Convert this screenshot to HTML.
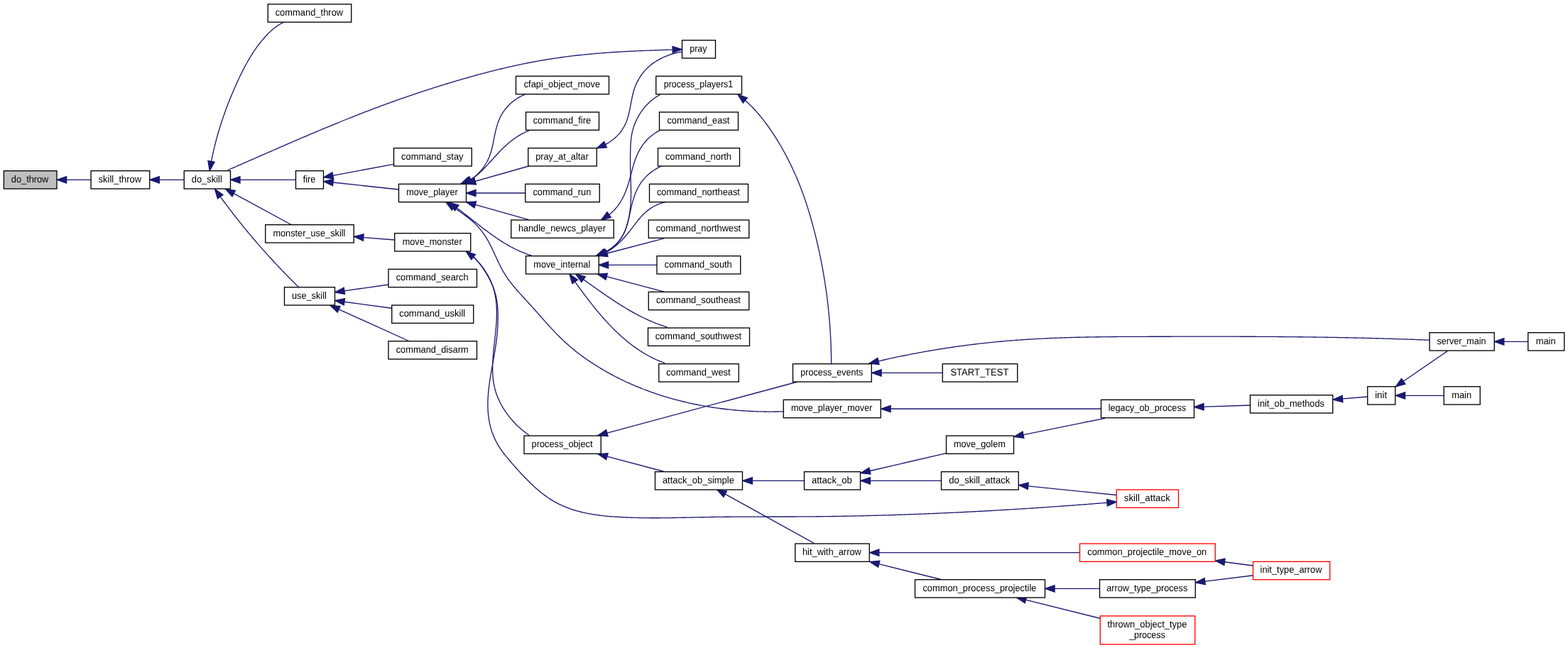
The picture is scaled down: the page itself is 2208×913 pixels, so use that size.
<!DOCTYPE html>
<html><head><meta charset="utf-8"><title>do_throw caller graph</title>
<style>
html,body{margin:0;padding:0;background:#fff;}
body{width:2208px;height:913px;overflow:hidden;}
svg{display:block;will-change:transform;}
text{font-family:"Liberation Sans",sans-serif;font-size:13.33px;fill:#000;text-anchor:start;text-rendering:geometricPrecision;}
.n{fill:#fff;stroke:#000;stroke-width:1.33;}
.g{fill:#bfbfbf;stroke:#000;stroke-width:1.33;}
.r{fill:#fff;stroke:#f00;stroke-width:1.33;}
.e{fill:none;stroke:#191970;stroke-width:1.33;}
.a{fill:#191970;stroke:#191970;stroke-width:1.33;}
</style></head>
<body>
<svg width="2208" height="913" viewBox="0 0 2208 913">
<rect x="0" y="0" width="2208" height="913" fill="#fff"/>
<g id="edges">
<path class="e" d="M93.63,253.3L128.1,253.3"/><polygon class="a" points="80.3,253.3 93.63,257.97 93.63,248.63"/>
<path class="e" d="M224.33,253.3L259.25,253.3"/><polygon class="a" points="211,253.3 224.33,257.97 224.33,248.63"/>
<path class="e" d="M338.03,253.3L416.5,253.3"/><polygon class="a" points="324.7,253.3 338.03,257.97 338.03,248.63"/>
<path class="e" d="M329.22,272.66L410,316.5"/><polygon class="a" points="317.5,266.3 326.99,276.76 331.44,268.55"/>
<path class="e" d="M310.27,277.13L310.28,277.14 311.47,278.77 312.66,280.39 313.85,282.01 315.04,283.62 316.24,285.23 317.44,286.85 318.64,288.45 319.85,290.06 321.05,291.66 322.27,293.26 323.48,294.86 324.7,296.45 325.92,298.05 327.15,299.64 328.37,301.22 329.6,302.81 330.84,304.39 332.07,305.97 333.31,307.55 334.55,309.12 335.8,310.69 337.05,312.26 338.3,313.83 339.56,315.39 340.81,316.95 342.07,318.51 343.34,320.07 344.61,321.62 345.88,323.17 347.15,324.72 348.42,326.26 349.7,327.81 350.99,329.35 352.27,330.88 353.56,332.42 354.85,333.95 356.14,335.48 357.44,337.01 358.74,338.53 360.05,340.05 361.35,341.57 362.66,343.09 363.98,344.6 365.29,346.12 366.61,347.62 367.93,349.13 369.26,350.63 370.58,352.13 371.92,353.63 373.25,355.13 374.59,356.62 375.93,358.11 377.27,359.6 378.62,361.09 379.97,362.57 381.32,364.05 382.67,365.53 384.03,367 385.39,368.47 386.76,369.94 388.13,371.41 389.5,372.87 390.87,374.34 392.25,375.8 393.63,377.25 395.01,378.71 396.4,380.16 397.78,381.61 399.18,383.05 400.57,384.5 401.97,385.94 403.37,387.37 404.77,388.81 406.18,390.24 407.59,391.67 409.01,393.1 410.42,394.53 411.84,395.95 413.26,397.37 414.69,398.79 416.12,400.2 417.55,401.61 418.99,403.02 420.42,404.43 420.75,404.75"/><polygon class="a" points="302.5,266.3 306.48,279.85 314.07,274.4"/>
<path class="e" d="M297.54,227.48L297.55,227.4 297.95,225.4 298.35,223.39 298.76,221.39 299.18,219.39 299.61,217.39 300.05,215.4 300.5,213.41 300.96,211.42 301.42,209.44 301.9,207.46 302.38,205.48 302.87,203.5 303.37,201.53 303.88,199.56 304.4,197.59 304.92,195.63 305.46,193.67 306,191.71 306.55,189.75 307.11,187.8 307.68,185.85 308.26,183.9 308.84,181.95 309.43,180.01 310.04,178.07 310.65,176.13 311.26,174.2 311.89,172.26 312.52,170.33 313.16,168.41 313.81,166.48 314.47,164.56 315.14,162.63 315.81,160.72 316.49,158.8 317.18,156.88 317.88,154.97 318.58,153.06 319.29,151.15 320.01,149.25 320.74,147.34 321.48,145.44 322.22,143.54 322.97,141.65 323.73,139.75 324.5,137.86 325.27,135.96 326.05,134.07 326.84,132.19 327.63,130.3 328.44,128.42 329.25,126.53 330.06,124.65 330.89,122.77 331.72,120.9 332.56,119.02 333.4,117.15 334.26,115.27 335.12,113.4 335.99,111.54 336.86,109.67 337.75,107.81 338.64,105.96 339.55,104.1 340.46,102.26 341.38,100.41 342.32,98.58 343.26,96.75 344.22,94.92 345.18,93.11 346.16,91.3 347.15,89.49 348.15,87.7 349.17,85.92 350.2,84.14 351.24,82.37 352.29,80.62 353.36,78.87 354.45,77.14 355.54,75.41 356.66,73.7 357.79,72 358.93,70.32 360.09,68.64 361.27,66.98 362.46,65.33 363.67,63.7 364.9,62.08 366.14,60.48 367.4,58.89 368.69,57.32 369.99,55.76 371.31,54.22 372.64,52.7 374,51.2 375.38,49.71 376.78,48.25 378.2,46.8 379.65,45.39 381.12,43.99 382.62,42.63 384.16,41.31 385.72,40.02 387.31,38.76 388.95,37.55 390.62,36.39 392.32,35.27 394.07,34.21 395.87,33.2 397.7,32.24 399.59,31.35 399.7,31.3"/><polygon class="a" points="295.2,240.6 302.14,228.3 292.94,226.66"/>
<path class="e" d="M947.18,70L947.17,70 945.17,70.06 943.16,70.12 941.16,70.18 939.16,70.24 937.16,70.31 935.15,70.37 933.15,70.43 931.15,70.5 929.14,70.56 927.14,70.63 925.14,70.7 923.13,70.77 921.13,70.84 919.12,70.91 917.12,70.98 915.11,71.06 913.11,71.13 911.1,71.21 909.1,71.29 907.09,71.37 905.09,71.45 903.08,71.53 901.08,71.62 899.07,71.71 897.07,71.79 895.06,71.89 893.06,71.98 891.05,72.07 889.05,72.17 887.04,72.27 885.04,72.37 883.03,72.47 881.03,72.58 879.03,72.69 877.02,72.8 875.02,72.91 873.01,73.03 871.01,73.15 869.01,73.27 867,73.39 865,73.52 863,73.65 860.99,73.78 858.99,73.92 856.99,74.05 854.99,74.2 852.99,74.34 850.99,74.49 848.99,74.64 846.99,74.8 844.99,74.95 842.99,75.12 840.99,75.28 838.99,75.45 836.99,75.62 834.99,75.8 832.99,75.98 831,76.16 829,76.35 827.01,76.54 825.01,76.74 823.02,76.94 821.02,77.14 819.03,77.35 817.03,77.57 815.04,77.78 813.05,78 811.06,78.23 809.07,78.46 807.08,78.7 805.09,78.94 803.1,79.18 801.11,79.43 799.12,79.68 797.14,79.94 795.15,80.2 793.17,80.46 791.18,80.74 789.2,81.01 787.21,81.29 785.23,81.57 783.25,81.86 781.27,82.16 779.29,82.46 777.31,82.76 775.33,83.07 773.35,83.38 771.37,83.69 769.4,84.02 767.42,84.34 765.45,84.67 763.47,85.01 761.5,85.35 759.53,85.69 757.55,86.04 755.58,86.4 753.61,86.76 751.64,87.12 749.68,87.49 747.71,87.87 745.74,88.25 743.78,88.63 741.81,89.02 739.85,89.41 737.88,89.81 735.92,90.21 733.96,90.62 732,91.03 730.04,91.44 728.08,91.86 726.12,92.29 724.17,92.72 722.21,93.15 720.25,93.59 718.3,94.03 716.35,94.47 714.39,94.92 712.44,95.38 710.49,95.83 708.54,96.29 706.59,96.76 704.64,97.23 702.69,97.7 700.74,98.18 698.8,98.66 696.85,99.14 694.91,99.63 692.96,100.12 691.02,100.61 689.08,101.11 687.14,101.61 685.19,102.11 683.25,102.62 681.31,103.13 679.38,103.64 677.44,104.16 675.5,104.68 673.57,105.2 671.63,105.73 669.69,106.26 667.76,106.79 665.83,107.33 663.9,107.86 661.96,108.4 660.03,108.95 658.1,109.5 656.17,110.05 654.24,110.6 652.32,111.15 650.39,111.71 648.46,112.27 646.54,112.83 644.61,113.4 642.69,113.97 640.77,114.54 638.84,115.11 636.92,115.69 635,116.27 633.08,116.85 631.16,117.43 629.24,118.01 627.32,118.6 625.41,119.19 623.49,119.78 621.57,120.37 619.66,120.97 617.74,121.57 615.83,122.17 613.92,122.77 612.01,123.38 610.1,123.98 608.18,124.59 606.28,125.21 604.37,125.82 602.46,126.44 600.55,127.05 598.64,127.68 596.74,128.3 594.83,128.92 592.93,129.55 591.03,130.18 589.12,130.81 587.22,131.45 585.32,132.08 583.42,132.72 581.52,133.36 579.62,134.01 577.72,134.65 575.83,135.3 573.93,135.95 572.04,136.6 570.14,137.26 568.25,137.91 566.35,138.57 564.46,139.23 562.57,139.9 560.68,140.56 558.79,141.23 556.9,141.9 555.02,142.58 553.13,143.25 551.24,143.93 549.36,144.61 547.47,145.29 545.59,145.98 543.71,146.66 541.82,147.35 539.94,148.04 538.06,148.74 536.18,149.43 534.3,150.13 532.43,150.83 530.55,151.53 528.67,152.24 526.8,152.95 524.92,153.65 523.05,154.37 521.18,155.08 519.31,155.79 517.43,156.51 515.56,157.23 513.69,157.95 511.83,158.68 509.96,159.4 508.09,160.13 506.22,160.86 504.36,161.59 502.49,162.32 500.63,163.06 498.76,163.79 496.9,164.53 495.04,165.27 493.17,166.01 491.31,166.75 489.45,167.5 487.59,168.25 485.73,169 483.87,169.75 482.01,170.5 480.16,171.25 478.3,172 476.44,172.76 474.59,173.52 472.73,174.28 470.88,175.04 469.02,175.8 467.17,176.56 465.31,177.33 463.46,178.09 461.61,178.86 459.76,179.63 457.91,180.4 456.06,181.17 454.21,181.94 452.36,182.72 450.51,183.49 448.66,184.27 446.81,185.05 444.96,185.83 443.11,186.6 441.27,187.39 439.42,188.17 437.57,188.95 435.73,189.73 433.88,190.52 432.04,191.3 430.19,192.09 428.35,192.88 426.5,193.67 424.66,194.45 422.82,195.24 420.97,196.04 419.13,196.83 417.29,197.62 415.45,198.41 413.61,199.21 411.76,200 409.92,200.8 408.08,201.59 406.24,202.39 404.4,203.19 402.56,203.98 400.72,204.78 398.88,205.58 397.04,206.38 395.2,207.18 393.36,207.98 391.53,208.78 389.69,209.58 387.85,210.38 386.01,211.19 384.17,211.99 382.33,212.79 380.5,213.59 378.66,214.4 376.82,215.2 374.98,216 373.15,216.81 371.31,217.61 369.47,218.41 367.64,219.22 365.8,220.02 363.96,220.83 362.13,221.63 360.29,222.44 358.45,223.24 356.62,224.05 354.78,224.85 352.94,225.65 351.11,226.46 349.27,227.26 347.43,228.07 345.6,228.87 343.76,229.68 341.92,230.48 340.09,231.28 338.25,232.09 336.41,232.89 334.58,233.69 332.74,234.49 330.9,235.3 329.07,236.1 327.23,236.9 325.39,237.7 323.56,238.5 321.72,239.3 320.8,239.7"/><polygon class="a" points="960.5,69.6 947.04,65.33 947.31,74.66"/>
<path class="e" d="M468.8,247.35L554.3,231.4"/><polygon class="a" points="455.7,249.8 469.66,251.95 467.95,242.76"/>
<path class="e" d="M468.95,257.03L561.5,267"/><polygon class="a" points="455.7,255.6 468.45,261.67 469.45,252.38"/>
<path class="e" d="M511.79,334.54L555.75,338"/><polygon class="a" points="498.5,333.5 511.42,339.2 512.15,329.89"/>
<path class="e" d="M484.9,409.87L547,401"/><polygon class="a" points="471.7,411.75 485.56,414.49 484.24,405.24"/>
<path class="e" d="M484.91,425.27L551.75,434.25"/><polygon class="a" points="471.7,423.5 484.29,429.9 485.53,420.65"/>
<path class="e" d="M477.14,435.8L575.75,480.5"/><polygon class="a" points="465,430.3 475.21,440.06 479.07,431.55"/>
<path class="e" d="M660.83,253.99L660.85,253.98 662.62,252.92 664.35,251.81 666.04,250.64 667.68,249.42 669.28,248.15 670.84,246.83 672.35,245.46 673.81,244.04 675.23,242.58 676.6,241.08 677.93,239.53 679.2,237.95 680.43,236.33 681.61,234.67 682.74,232.97 683.82,231.25 684.85,229.49 685.83,227.7 686.76,225.88 687.64,224.03 688.46,222.16 689.24,220.26 689.96,218.34 690.62,216.4 691.24,214.44 691.82,212.47 692.36,210.48 692.86,208.47 693.34,206.46 693.79,204.43 694.22,202.4 694.64,200.36 695.05,198.31 695.44,196.35 695.82,194.39 696.21,192.43 696.63,190.39 697.06,188.35 697.5,186.33 697.97,184.31 698.46,182.3 698.98,180.3 699.53,178.32 700.11,176.36 700.73,174.41 701.39,172.48 702.1,170.57 702.85,168.69 703.66,166.83 704.52,165 705.44,163.19 706.42,161.42 707.46,159.68 708.55,157.97 709.7,156.29 710.9,154.65 712.15,153.04 713.46,151.47 714.81,149.94 716.22,148.45 717.67,147 719.18,145.6 720.72,144.24 722.31,142.92 723.95,141.65 725.63,140.43 727.35,139.26 729.04,138.18 730.76,137.15 732.53,136.17 734.32,135.23 736.15,134.35 738.01,133.53 739.9,132.75"/><polygon class="a" points="648.6,259.3 662.68,258.28 658.97,249.71"/>
<path class="e" d="M663.03,253.15L663.04,253.14 664.76,252 666.43,250.82 668.08,249.6 669.7,248.34 671.29,247.05 672.86,245.73 674.39,244.38 675.91,243 677.41,241.59 678.89,240.16 680.35,238.71 681.79,237.24 683.18,235.8 684.56,234.35 685.93,232.88 687.29,231.4 688.64,229.92 689.99,228.43 691.34,226.94 692.69,225.44 694.03,223.94 695.38,222.45 696.73,220.95 698.08,219.46 699.44,217.98 700.8,216.5 702.18,215.04 703.56,213.58 704.95,212.14 706.35,210.71 707.77,209.29 709.24,207.85 710.74,206.43 712.24,205.04 713.77,203.66 715.32,202.31 716.88,200.98 718.46,199.67 720.07,198.4 721.7,197.15 723.35,195.93 725.02,194.74 726.72,193.58 728.45,192.45 730.15,191.39 731.87,190.36 733.63,189.37 735.4,188.41 737.21,187.49 739.05,186.6 740.91,185.76 742.81,184.95 744.67,184.2 745.2,184"/><polygon class="a" points="651.2,259.3 665.18,257.29 660.87,249.01"/>
<path class="e" d="M669.22,255.45L744.6,234"/><polygon class="a" points="656.4,259.1 670.5,259.94 667.94,250.96"/>
<path class="e" d="M670.03,272L739.75,272"/><polygon class="a" points="656.7,272 670.03,276.67 670.03,267.33"/>
<path class="e" d="M669.32,288.34L744.6,309.7"/><polygon class="a" points="656.5,284.7 668.05,292.83 670.6,283.85"/>
<path class="e" d="M643.26,292.93L643.3,292.96 644.92,294.16 646.53,295.37 648.14,296.58 649.75,297.8 651.36,299.03 652.96,300.26 654.56,301.5 656.16,302.74 657.76,303.98 659.35,305.23 660.95,306.48 662.54,307.73 664.13,308.98 665.72,310.23 667.32,311.48 668.91,312.74 670.5,313.99 672.1,315.24 673.69,316.49 675.29,317.73 676.89,318.97 678.5,320.21 680.1,321.44 681.71,322.67 683.32,323.89 684.94,325.11 686.56,326.32 688.18,327.52 689.81,328.72 691.44,329.9 693.08,331.08 694.72,332.25 696.37,333.41 698.03,334.55 699.69,335.69 701.36,336.81 703.03,337.92 704.72,339.02 706.41,340.11 708.11,341.18 709.81,342.24 711.53,343.28 713.25,344.3 714.99,345.31 716.73,346.3 718.49,347.28 720.25,348.23 722.03,349.17 723.81,350.09 725.61,350.99 727.42,351.87 729.24,352.73 731.07,353.56 732.91,354.38 734.77,355.17 736.64,355.94 738.53,356.68 740.42,357.4 742.34,358.1 744.26,358.77 746.2,359.42 748.16,360.03 748.7,360.2"/><polygon class="a" points="632.4,285.2 640.55,296.74 645.97,289.12"/>
<path class="e" d="M638.96,292.38L639,292.41 640.73,293.58 642.46,294.76 644.2,295.93 645.92,297.12 647.64,298.31 649.36,299.5 651.07,300.71 652.76,301.92 654.44,303.15 656.11,304.39 657.77,305.64 659.4,306.91 661.01,308.2 662.61,309.51 664.18,310.84 665.72,312.19 667.24,313.56 668.73,314.96 670.18,316.39 671.61,317.84 673,319.32 674.36,320.84 675.68,322.38 676.96,323.95 678.22,325.55 679.44,327.17 680.63,328.82 681.79,330.49 682.92,332.19 684.03,333.91 685.1,335.65 686.15,337.42 687.18,339.2 688.18,341 689.16,342.82 690.12,344.65 691.06,346.5 691.99,348.36 692.9,350.23 693.8,352.11 694.69,353.99 695.57,355.89 696.45,357.79 697.33,359.69 698.2,361.59 699.08,363.49 699.96,365.39 700.84,367.28 701.74,369.18 702.64,371.06 703.56,372.93 704.49,374.8 705.43,376.65 706.4,378.49 707.39,380.32 708.4,382.13 709.43,383.92 710.5,385.69 711.59,387.44 712.71,389.17 713.85,390.88 715.03,392.58 716.22,394.25 717.44,395.91 718.68,397.56 719.94,399.19 721.22,400.81 722.52,402.41 723.84,404.01 725.17,405.59 726.51,407.16 727.87,408.73 729.23,410.29 730.61,411.84 732,413.38 733.39,414.92 734.79,416.46 736.19,418 737.6,419.53 739.01,421.06 740.42,422.59 741.83,424.13 743.24,425.66 744.65,427.2 746.05,428.74 747.45,430.29 748.85,431.84 750.24,433.39 751.63,434.95 753.01,436.5 754.4,438.06 755.78,439.62 757.16,441.18 758.54,442.74 759.92,444.31 761.3,445.87 762.68,447.43 764.06,448.98 765.45,450.54 766.83,452.09 768.22,453.64 769.61,455.19 771,456.74 772.4,458.28 773.8,459.81 775.21,461.34 776.62,462.86 778.04,464.38 779.46,465.89 780.89,467.4 782.32,468.9 783.77,470.39 785.22,471.87 786.68,473.34 788.14,474.8 789.62,476.26 791.11,477.7 792.6,479.13 794.11,480.55 795.62,481.96 797.15,483.36 798.69,484.75 800.24,486.12 801.8,487.48 803.38,488.83 804.96,490.17 806.56,491.49 808.16,492.81 809.78,494.11 811.4,495.4 813.04,496.67 814.68,497.94 816.33,499.19 817.99,500.44 819.67,501.67 821.34,502.89 823.03,504.1 824.72,505.3 826.43,506.49 828.14,507.67 829.85,508.83 831.57,509.99 833.3,511.14 835.04,512.27 836.78,513.4 838.53,514.51 840.28,515.62 842.04,516.71 843.81,517.8 845.58,518.87 847.36,519.93 849.15,520.99 850.94,522.03 852.73,523.07 854.53,524.09 856.34,525.1 858.15,526.11 859.97,527.1 861.79,528.08 863.62,529.06 865.46,530.02 867.3,530.98 869.14,531.92 870.99,532.85 872.85,533.78 874.71,534.69 876.57,535.6 878.44,536.49 880.32,537.37 882.2,538.25 884.08,539.12 885.97,539.97 887.86,540.82 889.76,541.65 891.66,542.48 893.57,543.3 895.48,544.1 897.4,544.9 899.32,545.69 901.24,546.47 903.17,547.24 905.1,548 907.04,548.75 908.98,549.49 910.92,550.22 912.87,550.94 914.82,551.65 916.78,552.35 918.74,553.05 920.7,553.73 922.67,554.41 924.64,555.07 926.61,555.73 928.59,556.38 930.57,557.01 932.56,557.64 934.54,558.26 936.53,558.87 938.53,559.47 940.52,560.07 942.52,560.65 944.53,561.22 946.53,561.79 948.54,562.34 950.55,562.89 952.56,563.43 954.58,563.95 956.6,564.47 958.62,564.98 960.64,565.49 962.67,565.98 964.7,566.46 966.73,566.94 968.76,567.4 970.8,567.86 972.84,568.31 974.88,568.75 976.92,569.18 978.96,569.6 981.01,570.02 983.05,570.42 985.1,570.82 987.15,571.21 989.21,571.59 991.26,571.96 993.32,572.32 995.37,572.67 997.43,573.02 999.49,573.35 1001.55,573.68 1003.62,574 1005.68,574.31 1007.74,574.61 1009.81,574.91 1011.88,575.19 1013.95,575.47 1016.01,575.74 1018.08,576 1020.15,576.25 1022.23,576.49 1024.3,576.73 1026.37,576.96 1028.44,577.18 1030.52,577.39 1032.59,577.59 1034.66,577.78 1036.74,577.97 1038.81,578.15 1040.89,578.32 1042.97,578.48 1045.04,578.63 1047.12,578.78 1049.19,578.92 1051.27,579.05 1053.34,579.17 1055.42,579.28 1057.49,579.39 1059.57,579.49 1061.64,579.58 1063.71,579.66 1065.79,579.74 1067.86,579.8 1069.93,579.86 1072,579.91 1074.07,579.96 1076.14,579.99 1078.21,580.02 1080.28,580.04 1082.35,580.05 1084.42,580.06 1086.48,580.05 1088.54,580.04 1090.61,580.03 1092.67,580 1094.73,579.97 1096.79,579.93 1098.85,579.88 1100.9,579.82 1102.96,579.76 1103.25,579.75"/><polygon class="a" points="627.99,284.81 636.31,296.22 641.62,288.54"/>
<path class="e" d="M852.51,203.67L852.57,203.63 854.39,202.62 856.18,201.56 857.93,200.45 859.66,199.29 861.34,198.09 862.98,196.83 864.59,195.54 866.15,194.19 867.66,192.81 869.13,191.37 870.54,189.9 871.9,188.39 873.2,186.83 874.45,185.23 875.63,183.6 876.75,181.92 877.81,180.21 878.8,178.46 879.72,176.68 880.59,174.86 881.39,173.02 882.14,171.14 882.83,169.24 883.48,167.32 884.09,165.37 884.65,163.4 885.18,161.42 885.68,159.42 886.15,157.41 886.59,155.39 887.01,153.36 887.41,151.33 887.8,149.29 888.19,147.24 888.57,145.2 888.96,143.15 889.35,141.11 889.75,139.08 890.17,137.05 890.61,135.02 891.08,133.01 891.58,131.01 892.12,129.03 892.69,127.06 893.31,125.1 893.98,123.17 894.71,121.26 895.48,119.37 896.31,117.5 897.19,115.66 898.12,113.84 899.1,112.05 900.12,110.29 901.2,108.56 902.32,106.86 903.5,105.2 904.71,103.56 905.98,101.97 907.29,100.4 908.65,98.88 910.05,97.39 911.49,95.95 912.98,94.54 914.51,93.18 916.09,91.86 917.7,90.58 919.35,89.35 921.03,88.16 922.75,87.01 924.5,85.9 926.28,84.84 928.09,83.82 929.93,82.84 931.78,81.9 933.66,81 935.56,80.15 937.48,79.33 939.41,78.56 941.36,77.83 943.32,77.15 945.29,76.5 947.26,75.9 949.25,75.33 951.23,74.81 953.22,74.33 955.21,73.89 957.2,73.49 959.19,73.13 960.6,72.9"/><polygon class="a" points="840.25,208.9 854.34,207.96 850.67,199.37"/>
<path class="e" d="M857.67,302.58L857.7,302.55 859.29,301.25 860.82,299.9 862.32,298.53 863.77,297.12 865.17,295.67 866.52,294.19 867.83,292.67 869.13,291.06 870.39,289.42 871.59,287.74 872.74,286.03 873.85,284.29 874.9,282.52 875.92,280.72 876.89,278.89 877.83,277.04 878.69,275.23 879.51,273.4 880.31,271.55 881.07,269.69 881.8,267.8 882.51,265.9 883.19,263.99 883.84,262.06 884.47,260.12 885.07,258.17 885.66,256.21 886.22,254.24 886.77,252.26 887.31,250.28 887.84,248.29 888.36,246.3 888.87,244.31 889.39,242.32 889.91,240.33 890.43,238.35 890.97,236.37 891.52,234.4 892.08,232.44 892.67,230.49 893.28,228.55 893.92,226.62 894.59,224.71 895.3,222.81 896.04,220.94 896.82,219.08 897.64,217.24 898.5,215.43 899.4,213.63 900.35,211.87 901.33,210.12 902.37,208.41 903.44,206.72 904.56,205.07 905.73,203.44 906.94,201.85 908.2,200.29 909.51,198.76 910.87,197.28 912.27,195.82 913.73,194.41 915.24,193.04 916.79,191.71 918.4,190.42 920.07,189.17 921.72,188.02 923.42,186.91 925.17,185.84 926.97,184.82 928.75,183.88 929.5,183.5"/><polygon class="a" points="846.59,310 860.27,306.46 855.07,298.7"/>
<path class="e" d="M851.76,355.28L851.78,355.26 853.55,354.31 855.3,353.3 857.03,352.25 858.72,351.14 860.38,350 861.99,348.8 863.57,347.56 865.2,346.18 866.76,344.75 868.27,343.26 869.7,341.73 871.06,340.14 872.36,338.5 873.59,336.82 874.75,335.09 875.86,333.33 876.9,331.52 877.88,329.69 878.81,327.81 879.68,325.91 880.5,323.98 881.27,322.02 881.99,320.04 882.66,318.04 883.28,316.02 883.86,313.99 884.4,311.94 884.9,309.88 885.35,307.82 885.77,305.75 886.15,303.67 886.5,301.6 886.82,299.51 887.1,297.43 887.36,295.34 887.58,293.25 887.78,291.16 887.95,289.06 888.1,286.96 888.22,284.86 888.32,282.76 888.4,280.66 888.46,278.55 888.5,276.44 888.53,274.34 888.54,272.22 888.54,270.11 888.52,268 888.49,265.89 888.45,263.77 888.4,261.66 888.35,259.54 888.29,257.43 888.22,255.31 888.15,253.2 888.08,251.08 888.01,248.96 887.94,246.85 887.87,244.73 887.81,242.62 887.75,240.51 887.69,238.4 887.65,236.29 887.61,234.18 887.58,232.07 887.56,229.96 887.55,227.86 887.55,225.75 887.56,223.65 887.57,221.54 887.6,219.44 887.63,217.33 887.67,215.23 887.72,213.12 887.78,211.02 887.84,208.91 887.92,206.81 888.01,204.7 888.12,202.6 888.26,200.5 888.43,198.4 888.63,196.31 888.88,194.23 889.17,192.15 889.51,190.08 889.89,188.02 890.33,185.98 890.82,183.94 891.36,181.92 891.97,179.91 892.62,177.91 893.33,175.93 894.09,173.96 894.9,172.02 895.76,170.09 896.67,168.18 897.62,166.29 898.63,164.43 899.68,162.59 900.78,160.78 901.92,159 903.1,157.24 904.34,155.52 905.61,153.83 906.93,152.17 908.28,150.55 909.68,148.97 911.12,147.42 912.6,145.91 914.12,144.45 915.67,143.03 917.27,141.65 918.9,140.32 920.56,139.04 922.26,137.81 924,136.63 925.76,135.5 927.57,134.42 929.4,133.4"/><polygon class="a" points="839.5,360.5 853.59,359.57 849.93,350.98"/>
<path class="e" d="M852.83,355.45L852.83,355.45 854.58,354.47 856.36,353.4 858.1,352.27 859.8,351.09 861.45,349.85 863.06,348.57 864.62,347.23 866.13,345.85 867.58,344.42 868.99,342.94 870.33,341.43 871.63,339.87 872.86,338.27 874.04,336.63 875.15,334.95 876.2,333.24 877.19,331.49 878.11,329.71 878.98,327.9 879.79,326.06 880.54,324.19 881.25,322.3 881.92,320.39 882.55,318.45 883.14,316.5 883.7,314.52 884.23,312.54 884.74,310.54 885.22,308.52 885.69,306.5 886.15,304.48 886.6,302.44 887.02,300.49 887.45,298.53 887.87,296.58 888.31,294.62 888.77,292.59 889.24,290.57 889.73,288.56 890.24,286.55 890.78,284.55 891.33,282.57 891.91,280.6 892.52,278.65 893.17,276.71 893.84,274.79 894.55,272.89 895.3,271.01 896.09,269.16 896.93,267.32 897.81,265.52 898.74,263.74 899.72,261.99 900.75,260.26 901.84,258.57 902.98,256.91 904.18,255.29 905.43,253.7 906.74,252.14 908.09,250.63 909.5,249.15 910.96,247.71 912.47,246.3 914.02,244.95 915.61,243.63 917.25,242.35 918.87,241.17 920.52,240.04 922.22,238.94 923.94,237.89 925.7,236.88 927.5,235.92 929.33,235.01 931.19,234.14 931.5,234"/><polygon class="a" points="840.5,360.5 854.6,359.78 851.07,351.13"/>
<path class="e" d="M853.8,355.36L853.82,355.35 855.61,354.36 857.36,353.33 859.08,352.25 860.77,351.14 862.42,349.98 864.04,348.78 865.64,347.55 867.2,346.29 868.73,344.98 870.24,343.65 871.72,342.29 873.18,340.89 874.61,339.47 876.03,338.03 877.42,336.55 878.79,335.06 880.14,333.54 881.47,332.01 882.79,330.45 884.09,328.88 885.38,327.29 886.66,325.69 887.92,324.08 889.18,322.46 890.42,320.83 891.67,319.19 892.91,317.56 894.15,315.93 895.41,314.31 896.66,312.69 897.93,311.1 899.22,309.51 900.52,307.95 901.85,306.42 903.2,304.91 904.57,303.43 905.98,301.99 907.42,300.59 908.89,299.22 910.4,297.9 911.94,296.62 913.53,295.39 915.15,294.21 916.81,293.08 918.51,292 920.26,290.98 922.05,290.02 923.89,289.11 925.77,288.28 927.64,287.52 929.56,286.83 931.53,286.21 933.48,285.67 935.48,285.19 936.4,285"/><polygon class="a" points="841.5,360.5 855.6,359.67 852,351.05"/>
<path class="e" d="M854.69,357.01L935.1,335.9"/><polygon class="a" points="841.8,360.4 855.88,361.53 853.51,352.5"/>
<path class="e" d="M856.63,373.3L925,373.3"/><polygon class="a" points="843.3,373.3 856.63,377.97 856.63,368.63"/>
<path class="e" d="M854.18,389.72L935.1,411.2"/><polygon class="a" points="841.3,386.3 852.99,394.23 855.38,385.21"/>
<path class="e" d="M821.6,393.78L821.65,393.81 823.3,394.98 824.95,396.16 826.6,397.33 828.25,398.51 829.91,399.69 831.56,400.86 833.21,402.04 834.87,403.22 836.53,404.39 838.18,405.57 839.84,406.75 841.51,407.92 843.17,409.09 844.83,410.26 846.5,411.42 848.17,412.59 849.84,413.75 851.51,414.91 853.19,416.06 854.87,417.21 856.55,418.35 858.23,419.49 859.92,420.63 861.61,421.76 863.3,422.88 865,424 866.7,425.12 868.41,426.22 870.12,427.32 871.83,428.41 873.54,429.5 875.27,430.57 876.99,431.64 878.72,432.7 880.45,433.75 882.19,434.79 883.94,435.82 885.69,436.85 887.44,437.86 889.2,438.86 890.97,439.85 892.74,440.83 894.51,441.8 896.29,442.76 898.08,443.71 899.88,444.64 901.68,445.56 903.48,446.47 905.3,447.36 907.12,448.25 908.94,449.11 910.78,449.97 912.62,450.81 914.47,451.63 916.32,452.44 918.18,453.23 920.05,454.01 921.93,454.77 923.82,455.52 925.71,456.25 927.61,456.96 929.52,457.66 931.44,458.33 933.37,458.99 935.3,459.63 937.25,460.26 939.2,460.86 940,461.1"/><polygon class="a" points="810.7,386.1 818.91,397.59 824.29,389.96"/>
<path class="e" d="M809.67,396.94L809.7,396.98 810.89,398.63 812.08,400.28 813.28,401.93 814.48,403.58 815.69,405.24 816.9,406.89 818.11,408.55 819.33,410.2 820.56,411.85 821.79,413.5 823.02,415.16 824.26,416.81 825.51,418.45 826.76,420.1 828.02,421.74 829.28,423.38 830.55,425.02 831.83,426.66 833.11,428.29 834.39,429.91 835.69,431.54 836.99,433.16 838.3,434.77 839.61,436.38 840.93,437.98 842.26,439.58 843.59,441.17 844.93,442.75 846.28,444.33 847.64,445.9 849.01,447.46 850.38,449.01 851.76,450.56 853.15,452.1 854.54,453.63 855.95,455.15 857.36,456.66 858.78,458.16 860.21,459.66 861.65,461.14 863.1,462.61 864.56,464.07 866.02,465.52 867.5,466.96 868.98,468.38 870.48,469.8 871.98,471.2 873.5,472.59 875.02,473.96 876.55,475.32 878.1,476.67 879.65,478.01 881.22,479.33 882.79,480.63 884.38,481.92 885.97,483.2 887.58,484.46 889.2,485.7 890.83,486.93 892.47,488.14 894.12,489.34 895.79,490.51 897.46,491.67 899.15,492.81 900.85,493.94 902.56,495.04 904.28,496.13 906.02,497.2 907.76,498.25 909.52,499.28 911.3,500.29 913.08,501.27 914.88,502.24 916.69,503.19 918.52,504.12 920.36,505.02 922.21,505.9 924.07,506.76 925.95,507.6 927.84,508.42 929.75,509.21 931.67,509.98 933.6,510.72 935.55,511.44 936,511.6"/><polygon class="a" points="801.9,386.11 805.87,399.66 813.46,394.21"/>
<path class="e" d="M1049.34,141.52L1049.4,141.57 1050.94,142.95 1052.46,144.34 1053.96,145.75 1055.45,147.17 1056.92,148.61 1058.37,150.07 1059.81,151.54 1061.24,153.03 1062.65,154.53 1064.04,156.05 1065.42,157.58 1066.79,159.13 1068.14,160.69 1069.47,162.26 1070.8,163.84 1072.11,165.44 1073.4,167.05 1074.68,168.67 1075.95,170.3 1077.21,171.95 1078.45,173.6 1079.69,175.26 1080.91,176.94 1082.11,178.62 1083.31,180.31 1084.49,182.01 1085.66,183.72 1086.83,185.44 1087.98,187.16 1089.12,188.89 1090.24,190.63 1091.36,192.38 1092.47,194.13 1093.57,195.88 1094.66,197.65 1095.74,199.42 1096.81,201.19 1097.87,202.97 1098.91,204.75 1099.95,206.54 1100.98,208.34 1102,210.14 1103.01,211.95 1104.01,213.76 1105.01,215.57 1105.99,217.4 1106.96,219.22 1107.92,221.05 1108.87,222.89 1109.82,224.73 1110.75,226.58 1111.67,228.43 1112.59,230.28 1113.49,232.14 1114.39,234 1115.28,235.87 1116.15,237.74 1117.02,239.62 1117.88,241.5 1118.73,243.39 1119.57,245.27 1120.4,247.17 1121.22,249.06 1122.03,250.97 1122.84,252.87 1123.63,254.78 1124.42,256.69 1125.19,258.61 1125.96,260.53 1126.72,262.45 1127.47,264.37 1128.21,266.3 1128.94,268.24 1129.66,270.17 1130.37,272.11 1131.08,274.06 1131.78,276 1132.46,277.95 1133.14,279.9 1133.81,281.86 1134.47,283.81 1135.13,285.77 1135.77,287.74 1136.41,289.7 1137.04,291.67 1137.66,293.64 1138.27,295.61 1138.88,297.59 1139.48,299.56 1140.07,301.54 1140.65,303.53 1141.23,305.51 1141.8,307.49 1142.37,309.48 1142.93,311.47 1143.48,313.46 1144.03,315.45 1144.57,317.45 1145.1,319.44 1145.63,321.44 1146.16,323.44 1146.67,325.44 1147.19,327.44 1147.7,329.44 1148.2,331.45 1148.69,333.45 1149.19,335.46 1149.67,337.47 1150.15,339.48 1150.63,341.49 1151.1,343.5 1151.56,345.52 1152.02,347.53 1152.47,349.55 1152.92,351.56 1153.36,353.58 1153.8,355.6 1154.23,357.62 1154.65,359.64 1155.07,361.67 1155.49,363.69 1155.9,365.72 1156.3,367.74 1156.7,369.77 1157.09,371.8 1157.48,373.83 1157.86,375.86 1158.23,377.89 1158.6,379.92 1158.97,381.96 1159.33,383.99 1159.68,386.03 1160.03,388.06 1160.37,390.1 1160.71,392.14 1161.04,394.18 1161.37,396.22 1161.69,398.26 1162,400.3 1162.31,402.35 1162.61,404.39 1162.91,406.44 1163.2,408.48 1163.49,410.53 1163.77,412.57 1164.04,414.62 1164.31,416.67 1164.58,418.72 1164.84,420.77 1165.09,422.82 1165.34,424.87 1165.58,426.92 1165.81,428.98 1166.04,431.03 1166.27,433.09 1166.49,435.14 1166.7,437.2 1166.91,439.25 1167.11,441.31 1167.31,443.37 1167.5,445.42 1167.68,447.48 1167.86,449.54 1168.04,451.6 1168.2,453.66 1168.37,455.72 1168.52,457.78 1168.67,459.84 1168.82,461.9 1168.96,463.96 1169.09,466.03 1169.22,468.09 1169.34,470.15 1169.46,472.22 1169.57,474.28 1169.68,476.34 1169.78,478.41 1169.87,480.47 1169.96,482.54 1170.04,484.6 1170.12,486.67 1170.19,488.74 1170.26,490.8 1170.32,492.87 1170.37,494.94 1170.42,497 1170.46,499.07 1170.5,501.14 1170.53,503.2 1170.56,505.27 1170.58,507.34 1170.59,509.41 1170.6,511.47 1170.6,512.3"/><polygon class="a" points="1039,133.1 1046.39,145.14 1052.29,137.9"/>
<path class="e" d="M666.59,362.22L666.64,362.27 668.16,363.68 669.65,365.12 671.11,366.58 672.54,368.08 673.94,369.61 675.3,371.16 676.64,372.75 677.94,374.36 679.2,375.99 680.44,377.65 681.63,379.33 682.79,381.04 683.92,382.76 685.01,384.51 686.06,386.28 687.07,388.06 688.05,389.86 688.98,391.68 689.88,393.52 690.73,395.37 691.54,397.23 692.31,399.1 693.04,400.99 693.73,402.89 694.37,404.8 694.97,406.72 695.52,408.64 696.03,410.58 696.53,412.66 696.99,414.75 697.4,416.84 697.77,418.95 698.1,421.07 698.39,423.19 698.63,425.18 698.83,427.17 699,429.17 699.14,431.18 699.25,433.19 699.34,435.2 699.4,437.23 699.43,439.25 699.44,441.28 699.42,443.32 699.39,445.36 699.33,447.4 699.25,449.45 699.16,451.5 699.04,453.55 698.91,455.6 698.77,457.66 698.61,459.72 698.44,461.78 698.26,463.85 698.07,465.91 697.87,467.98 697.66,470.05 697.44,472.12 697.22,474.19 697,476.26 696.77,478.33 696.54,480.4 696.31,482.46 696.08,484.53 695.85,486.6 695.63,488.67 695.41,490.73 695.2,492.8 694.99,494.86 694.8,496.92 694.61,498.98 694.44,501.04 694.28,503.09 694.13,505.14 694,507.19 693.89,509.23 693.79,511.28 693.72,513.31 693.66,515.35 693.63,517.38 693.62,519.4 693.64,521.42 693.68,523.44 693.75,525.45 693.85,527.45 693.98,529.46 694.14,531.45 694.35,533.58 694.6,535.7 694.89,537.82 695.22,539.93 695.6,542.03 696.02,544.12 696.49,546.21 697.01,548.28 697.54,550.21 698.11,552.13 698.73,554.04 699.4,555.95 700.1,557.84 700.85,559.72 701.64,561.6 702.47,563.46 703.33,565.3 704.24,567.14 705.18,568.96 706.16,570.77 707.17,572.56 708.22,574.33 709.31,576.1 710.42,577.84 711.57,579.57 712.75,581.28 713.96,582.97 715.2,584.64 716.47,586.29 717.76,587.92 719.09,589.54 720.43,591.13 721.81,592.69 723.21,594.24 724.63,595.76 726.07,597.26 727.54,598.74 729.02,600.19 730.53,601.61 732.05,603.01 733.59,604.38 735.16,605.72 736.73,607.04 738.32,608.32 739.93,609.58 741.55,610.81 743.19,612.01 744.83,613.17 745.3,613.5"/><polygon class="a" points="656.1,354 663.7,365.9 669.47,358.55"/>
<path class="e" d="M1558.96,708.28L1558.53,708.31 1556.15,708.5 1553.76,708.69 1551.38,708.88 1548.99,709.07 1546.6,709.26 1544.22,709.45 1541.83,709.64 1539.45,709.82 1537.06,710.01 1534.68,710.19 1532.29,710.37 1529.9,710.56 1527.52,710.74 1525.13,710.92 1522.75,711.1 1520.36,711.28 1517.98,711.46 1515.59,711.64 1513.2,711.82 1510.82,711.99 1508.43,712.17 1506.05,712.34 1503.66,712.52 1501.27,712.69 1498.89,712.86 1496.5,713.03 1494.12,713.21 1491.73,713.38 1489.34,713.54 1486.96,713.71 1484.57,713.88 1482.19,714.05 1479.8,714.21 1477.41,714.38 1475.03,714.54 1472.64,714.71 1470.25,714.87 1467.87,715.03 1465.48,715.19 1463.1,715.35 1460.71,715.51 1458.32,715.67 1455.94,715.83 1453.55,715.98 1451.16,716.14 1448.78,716.29 1446.39,716.45 1444,716.6 1441.62,716.75 1439.23,716.9 1436.84,717.05 1434.46,717.2 1432.07,717.35 1429.68,717.5 1427.3,717.65 1424.91,717.79 1422.52,717.94 1420.14,718.08 1417.75,718.23 1415.36,718.37 1412.98,718.51 1410.59,718.65 1408.2,718.79 1405.81,718.93 1403.43,719.07 1401.04,719.2 1398.65,719.34 1396.26,719.47 1393.88,719.61 1391.49,719.74 1389.1,719.87 1386.72,720 1384.33,720.13 1381.94,720.26 1379.55,720.39 1377.16,720.52 1374.78,720.64 1372.39,720.77 1370,720.89 1367.61,721.02 1365.23,721.14 1362.84,721.26 1360.45,721.38 1358.06,721.5 1355.67,721.62 1353.29,721.74 1350.9,721.85 1348.51,721.97 1346.12,722.08 1343.73,722.2 1341.34,722.31 1338.95,722.42 1336.57,722.53 1334.18,722.64 1331.79,722.75 1329.4,722.85 1327.01,722.96 1324.62,723.07 1322.23,723.17 1319.84,723.27 1317.46,723.38 1315.07,723.48 1312.68,723.58 1310.29,723.68 1307.9,723.77 1305.51,723.87 1303.12,723.97 1300.73,724.06 1298.34,724.16 1295.95,724.25 1293.56,724.34 1291.17,724.43 1288.78,724.52 1286.39,724.61 1284,724.7 1281.61,724.78 1279.22,724.87 1276.83,724.95 1274.44,725.03 1272.05,725.12 1269.66,725.2 1267.27,725.28 1264.88,725.36 1262.49,725.43 1260.1,725.51 1257.71,725.58 1255.32,725.66 1252.93,725.73 1250.54,725.8 1248.15,725.87 1245.76,725.94 1243.36,726.01 1240.97,726.08 1238.58,726.15 1236.19,726.21 1233.8,726.28 1231.41,726.34 1229.02,726.4 1226.62,726.46 1224.23,726.52 1221.84,726.58 1219.45,726.64 1217.06,726.69 1214.66,726.75 1212.27,726.8 1209.88,726.85 1207.49,726.9 1205.1,726.95 1202.7,727 1200.31,727.05 1197.92,727.1 1195.53,727.14 1193.13,727.19 1190.74,727.23 1188.35,727.27 1185.95,727.31 1183.56,727.35 1181.17,727.39 1178.77,727.43 1176.38,727.46 1173.99,727.5 1171.59,727.53 1169.2,727.56 1166.81,727.59 1164.41,727.62 1162.02,727.65 1159.62,727.68 1157.23,727.7 1154.84,727.73 1152.44,727.75 1150.05,727.77 1147.65,727.79 1145.26,727.81 1142.86,727.83 1140.47,727.85 1138.07,727.86 1135.68,727.88 1133.28,727.89 1130.89,727.91 1128.49,727.92 1126.1,727.93 1123.7,727.94 1121.31,727.95 1118.91,727.96 1116.52,727.96 1114.12,727.97 1111.73,727.98 1109.33,727.98 1106.94,727.99 1104.54,727.99 1102.15,728 1099.75,728 1097.36,728 1094.96,728.01 1092.57,728.01 1090.17,728.01 1087.78,728.02 1085.38,728.02 1082.99,728.02 1080.59,728.03 1078.2,728.03 1075.81,728.03 1073.41,728.04 1071.02,728.04 1068.62,728.05 1066.23,728.05 1063.84,728.06 1061.45,728.06 1059.05,728.07 1056.66,728.07 1054.27,728.08 1051.88,728.09 1049.48,728.1 1047.09,728.11 1044.7,728.12 1042.31,728.13 1039.92,728.14 1037.53,728.16 1035.14,728.17 1032.75,728.19 1030.36,728.2 1027.97,728.22 1025.58,728.24 1023.19,728.26 1020.81,728.28 1018.42,728.31 1016.03,728.33 1013.64,728.36 1011.26,728.39 1008.87,728.42 1006.49,728.45 1004.1,728.48 1001.72,728.52 999.33,728.55 996.95,728.59 994.56,728.63 992.18,728.68 989.8,728.72 987.42,728.76 985.03,728.81 982.65,728.86 980.27,728.9 977.89,728.95 975.51,729 973.12,729.05 970.74,729.1 968.36,729.14 965.98,729.19 963.6,729.24 961.22,729.28 958.83,729.33 956.45,729.37 954.07,729.41 951.68,729.45 949.3,729.49 946.92,729.52 944.53,729.56 942.15,729.59 939.76,729.61 937.38,729.64 934.99,729.66 932.6,729.68 930.22,729.7 927.83,729.71 925.44,729.72 923.05,729.72 920.66,729.72 918.27,729.72 915.87,729.71 913.48,729.69 911.08,729.67 908.69,729.65 906.29,729.62 903.89,729.59 901.49,729.54 899.09,729.5 896.69,729.45 894.29,729.39 891.88,729.32 889.48,729.25 887.07,729.17 884.66,729.08 882.25,728.99 879.84,728.89 877.43,728.78 875.01,728.66 872.6,728.53 870.18,728.4 867.77,728.25 865.35,728.09 862.94,727.92 860.53,727.74 858.12,727.54 855.71,727.33 853.3,727.1 850.9,726.85 848.51,726.59 846.11,726.31 843.73,726.01 841.34,725.69 838.97,725.35 836.59,725 834.23,724.61 831.87,724.21 829.52,723.78 827.18,723.33 824.85,722.85 822.53,722.35 820.21,721.82 817.91,721.26 815.61,720.67 813.33,720.06 811.06,719.41 808.8,718.74 806.55,718.03 804.32,717.29 802.09,716.52 799.89,715.71 797.69,714.87 795.51,713.99 793.35,713.08 791.2,712.13 789.07,711.14 786.95,710.12 784.85,709.05 782.77,707.94 780.7,706.8 778.66,705.61 776.63,704.37 774.62,703.1 772.63,701.79 770.66,700.45 768.7,699.07 766.76,697.65 764.84,696.2 762.93,694.72 761.04,693.21 759.17,691.67 757.32,690.11 755.48,688.52 753.65,686.9 751.84,685.27 750.05,683.61 748.27,681.93 746.51,680.24 744.76,678.52 743.03,676.8 741.31,675.05 739.6,673.3 737.91,671.54 736.23,669.76 734.57,667.98 732.91,666.19 731.28,664.4 729.65,662.6 728.04,660.8 726.43,659 724.85,657.2 723.27,655.4 721.7,653.6 720.15,651.82 718.61,650.03 717.08,648.25 715.56,646.47 714.06,644.69 712.59,642.89 711.13,641.08 709.7,639.26 708.29,637.41 706.91,635.54 705.56,633.63 704.24,631.69 702.96,629.72 701.71,627.7 700.51,625.63 699.34,623.51 698.22,621.34 697.14,619.14 696.12,616.9 695.15,614.63 694.23,612.35 693.37,610.05 692.57,607.74 691.83,605.43 691.15,603.11 690.52,600.79 689.96,598.46 689.44,596.12 688.98,593.78 688.57,591.44 688.2,589.09 687.89,586.74 687.62,584.38 687.4,582.02 687.22,579.66 687.08,577.29 686.98,574.92 686.92,572.55 686.9,570.17 686.92,567.8 686.96,565.42 687.04,563.04 687.16,560.66 687.3,558.28 687.47,555.89 687.67,553.51 687.89,551.12 688.14,548.74 688.4,546.36 688.69,543.97 689,541.59 689.33,539.21 689.67,536.82 690.03,534.45 690.4,532.07 690.78,529.69 691.17,527.32 691.57,524.95 691.98,522.58 692.4,520.21 692.82,517.85 693.24,515.49 693.66,513.14 694.08,510.78 694.5,508.43 694.92,506.09 695.33,503.74 695.74,501.4 696.15,499.05 696.54,496.71 696.93,494.37 697.31,492.02 697.68,489.67 698.03,487.32 698.37,484.97 698.7,482.62 699.01,480.26 699.3,477.89 699.58,475.52 699.84,473.15 700.07,470.77 700.29,468.38 700.48,465.99 700.65,463.59 700.8,461.19 700.92,458.78 701.03,456.37 701.11,453.97 701.17,451.56 701.2,449.15 701.21,446.74 701.2,444.33 701.16,441.93 701.09,439.53 700.99,437.13 700.85,434.74 700.68,432.36 700.46,429.98 700.19,427.61 699.88,425.26 699.51,422.91 699.08,420.57 698.59,418.25 698.04,415.93 697.43,413.64 696.76,411.35 696.03,409.08 695.24,406.83 694.41,404.59 693.52,402.37 692.58,400.17 691.59,397.98 690.56,395.81 689.48,393.66 688.36,391.53 687.2,389.42 686,387.32 684.76,385.25 683.49,383.2 682.18,381.18 680.85,379.17 679.48,377.19 678.09,375.23 676.67,373.3 675.22,371.39 673.76,369.5 672.26,367.65 670.72,365.85 669.12,364.1 667.46,362.41 665.73,360.8 663.92,359.27 662.01,357.83 660,356.5"/><polygon class="a" points="1572.25,707.2 1558.59,703.62 1559.34,712.93"/>
<path class="e" d="M854.87,610.04L1122.75,538"/><polygon class="a" points="842,613.5 856.09,614.55 853.66,605.53"/>
<path class="e" d="M854.89,643.16L934.5,664.25"/><polygon class="a" points="842,639.75 853.69,647.68 856.08,638.65"/>
<path class="e" d="M1236.96,508.89L1237.11,508.86 1239.43,508.32 1241.75,507.78 1244.07,507.25 1246.39,506.73 1248.71,506.2 1251.03,505.69 1253.35,505.17 1255.68,504.67 1258,504.16 1260.33,503.66 1262.65,503.17 1264.98,502.68 1267.31,502.19 1269.64,501.71 1271.97,501.24 1274.3,500.76 1276.63,500.3 1278.96,499.83 1281.3,499.37 1283.63,498.92 1285.97,498.47 1288.3,498.03 1290.64,497.59 1292.98,497.15 1295.31,496.72 1297.65,496.29 1299.99,495.87 1302.33,495.45 1304.68,495.04 1307.02,494.63 1309.36,494.22 1311.7,493.82 1314.05,493.43 1316.39,493.04 1318.74,492.65 1321.09,492.27 1323.43,491.89 1325.78,491.52 1328.13,491.15 1330.48,490.78 1332.83,490.42 1335.18,490.07 1337.53,489.72 1339.88,489.37 1342.23,489.03 1344.59,488.69 1346.94,488.35 1349.29,488.03 1351.65,487.7 1354,487.38 1356.36,487.06 1358.72,486.75 1361.07,486.45 1363.43,486.14 1365.79,485.84 1368.15,485.55 1370.5,485.26 1372.86,484.98 1375.22,484.69 1377.58,484.42 1379.94,484.15 1382.31,483.88 1384.67,483.61 1387.03,483.36 1389.39,483.1 1391.76,482.85 1394.12,482.6 1396.48,482.36 1398.85,482.12 1401.21,481.89 1403.58,481.66 1405.94,481.44 1408.31,481.22 1410.67,481 1413.04,480.79 1415.41,480.58 1417.77,480.38 1420.14,480.18 1422.51,479.99 1424.88,479.8 1427.24,479.61 1429.61,479.43 1431.98,479.25 1434.35,479.08 1436.72,478.91 1439.09,478.75 1441.46,478.59 1443.83,478.43 1446.2,478.28 1448.57,478.13 1450.94,477.99 1453.31,477.84 1455.68,477.71 1458.05,477.57 1460.43,477.44 1462.8,477.32 1465.17,477.19 1467.54,477.08 1469.92,476.96 1472.29,476.85 1474.66,476.74 1477.04,476.63 1479.41,476.53 1481.78,476.43 1484.16,476.33 1486.53,476.24 1488.9,476.15 1491.28,476.06 1493.65,475.98 1496.03,475.9 1498.4,475.82 1500.78,475.74 1503.15,475.67 1505.53,475.6 1507.9,475.53 1510.28,475.46 1512.66,475.4 1515.03,475.34 1517.41,475.28 1519.78,475.23 1522.16,475.17 1524.54,475.12 1526.91,475.07 1529.29,475.02 1531.67,474.98 1534.04,474.94 1536.42,474.89 1538.8,474.86 1541.17,474.82 1543.55,474.78 1545.93,474.75 1548.31,474.72 1550.68,474.69 1553.06,474.66 1555.44,474.63 1557.82,474.6 1560.2,474.58 1562.57,474.56 1564.95,474.53 1567.33,474.51 1569.71,474.49 1572.09,474.48 1574.46,474.46 1576.84,474.44 1579.22,474.43 1581.6,474.41 1583.98,474.4 1586.36,474.39 1588.73,474.38 1591.11,474.37 1593.49,474.36 1595.87,474.35 1598.25,474.34 1600.63,474.33 1603,474.32 1605.38,474.31 1607.76,474.31 1610.14,474.3 1612.52,474.29 1614.9,474.29 1617.27,474.28 1619.65,474.27 1622.03,474.27 1624.41,474.26 1626.79,474.26 1629.16,474.25 1631.54,474.25 1633.92,474.24 1636.3,474.23 1638.68,474.23 1641.06,474.22 1643.43,474.22 1645.81,474.21 1648.19,474.21 1650.57,474.2 1652.94,474.2 1655.32,474.19 1657.7,474.19 1660.08,474.19 1662.46,474.18 1664.83,474.18 1667.21,474.17 1669.59,474.17 1671.97,474.17 1674.34,474.16 1676.72,474.16 1679.1,474.16 1681.48,474.16 1683.85,474.15 1686.23,474.15 1688.61,474.15 1690.99,474.15 1693.36,474.15 1695.74,474.15 1698.12,474.15 1700.5,474.15 1702.87,474.14 1705.25,474.15 1707.63,474.15 1710,474.15 1712.38,474.15 1714.76,474.15 1717.14,474.15 1719.51,474.15 1721.89,474.15 1724.27,474.16 1726.64,474.16 1729.02,474.16 1731.4,474.17 1733.78,474.17 1736.15,474.18 1738.53,474.18 1740.91,474.19 1743.28,474.19 1745.66,474.2 1748.04,474.21 1750.41,474.21 1752.79,474.22 1755.17,474.23 1757.54,474.24 1759.92,474.25 1762.3,474.25 1764.67,474.26 1767.05,474.27 1769.43,474.29 1771.8,474.3 1774.18,474.31 1776.56,474.32 1778.93,474.33 1781.31,474.35 1783.69,474.36 1786.06,474.37 1788.44,474.39 1790.82,474.4 1793.19,474.42 1795.57,474.44 1797.95,474.45 1800.32,474.47 1802.7,474.49 1805.08,474.51 1807.45,474.53 1809.83,474.55 1812.21,474.57 1814.58,474.59 1816.96,474.61 1819.33,474.63 1821.71,474.66 1824.09,474.68 1826.46,474.71 1828.84,474.73 1831.22,474.76 1833.59,474.78 1835.97,474.81 1838.35,474.84 1840.72,474.87 1843.1,474.9 1845.47,474.93 1847.85,474.96 1850.23,474.99 1852.6,475.02 1854.98,475.05 1857.36,475.09 1859.73,475.12 1862.11,475.16 1864.48,475.19 1866.86,475.23 1869.24,475.27 1871.61,475.3 1873.99,475.34 1876.37,475.38 1878.74,475.42 1881.12,475.46 1883.49,475.51 1885.87,475.55 1888.25,475.59 1890.62,475.64 1893,475.68 1895.38,475.73 1897.75,475.78 1900.13,475.83 1902.5,475.88 1904.88,475.92 1907.26,475.98 1909.63,476.03 1912.01,476.08 1914.39,476.13 1916.76,476.19 1919.14,476.24 1921.51,476.3 1923.89,476.36 1926.27,476.42 1928.64,476.47 1931.02,476.53 1933.39,476.6 1935.77,476.66 1938.15,476.72 1940.52,476.78 1942.9,476.85 1945.28,476.92 1947.65,476.98 1950.03,477.05 1952.4,477.12 1954.78,477.19 1957.16,477.26 1959.53,477.33 1961.91,477.41 1964.29,477.48 1966.66,477.56 1969.04,477.63 1971.41,477.71 1973.79,477.79 1976.17,477.87 1978.54,477.95 1980.92,478.03 1983.3,478.11 1985.67,478.2 1988.05,478.28 1990.42,478.37 1992.8,478.46 1995.18,478.55 1997.55,478.64 1999.93,478.73 2002.31,478.82 2004.68,478.91 2007.06,479.01 2009.44,479.1 2011.81,479.2 2013,479.25"/><polygon class="a" points="1224,512.01 1238.05,513.43 1235.87,504.35"/>
<path class="e" d="M1241.08,525.3L1327.25,525.3"/><polygon class="a" points="1227.75,525.3 1241.08,529.97 1241.08,520.63"/>
<path class="e" d="M1254.08,576L1550.5,576"/><polygon class="a" points="1240.75,576 1254.08,580.67 1254.08,571.33"/>
<path class="e" d="M1059.33,677.3L1132.5,677.3"/><polygon class="a" points="1046,677.3 1059.33,681.97 1059.33,672.63"/>
<path class="e" d="M1021.16,696.15L1146.5,765.5"/><polygon class="a" points="1009.5,689.7 1018.9,700.24 1023.42,692.07"/>
<path class="e" d="M1224.89,663.49L1332.3,638.6"/><polygon class="a" points="1211.9,666.5 1225.94,668.04 1223.83,658.94"/>
<path class="e" d="M1225.33,677.3L1325.5,677.3"/><polygon class="a" points="1212,677.3 1225.33,681.97 1225.33,672.63"/>
<path class="e" d="M1440.96,612.65L1556,589.3"/><polygon class="a" points="1427.9,615.3 1441.89,617.23 1440.03,608.07"/>
<path class="e" d="M1447.76,684.85L1572.25,697.5"/><polygon class="a" points="1434.5,683.5 1447.29,689.49 1448.23,680.2"/>
<path class="e" d="M1237.83,778.7L1520.5,778.7"/><polygon class="a" points="1224.5,778.7 1237.83,783.37 1237.83,774.03"/>
<path class="e" d="M1237.69,794.72L1325.25,816.5"/><polygon class="a" points="1224.75,791.5 1236.56,799.25 1238.81,790.19"/>
<path class="e" d="M1485.08,829.3L1548.5,829.3"/><polygon class="a" points="1471.75,829.3 1485.08,833.97 1485.08,824.63"/>
<path class="e" d="M1444.44,845.21L1549.25,871.25"/><polygon class="a" points="1431.5,842 1443.31,849.75 1445.56,840.68"/>
<path class="e" d="M1724.47,791.74L1764.5,797"/><polygon class="a" points="1711.25,790 1723.86,796.37 1725.07,787.11"/>
<path class="e" d="M1696.73,819.12L1764.5,810.75"/><polygon class="a" points="1683.5,820.75 1697.3,823.75 1696.16,814.48"/>
<path class="e" d="M1695.07,573.08L1760.5,571"/><polygon class="a" points="1681.75,573.5 1695.22,577.74 1694.93,568.41"/>
<path class="e" d="M1890.53,561.9L1925.75,559"/><polygon class="a" points="1877.25,563 1890.92,566.56 1890.15,557.25"/>
<path class="e" d="M1976.18,537.25L2038.5,494.4"/><polygon class="a" points="1965.2,544.8 1978.83,541.1 1973.54,533.4"/>
<path class="e" d="M1978.58,557.3L2033.25,557.3"/><polygon class="a" points="1965.25,557.3 1978.58,561.97 1978.58,552.63"/>
<path class="e" d="M2117.83,481.3L2151.75,481.3"/><polygon class="a" points="2104.5,481.3 2117.83,485.97 2117.83,476.63"/>
</g>
<g id="nodes">
<rect class="g" x="5.4" y="240.67" width="74.6" height="25.33"/><text transform="translate(15.85 256.67) scale(1 1.03)" textLength="52.5" lengthAdjust="spacingAndGlyphs">do_throw</text>
<rect class="n" x="128.1" y="240.67" width="82.65" height="25.33"/><text transform="translate(138.58 256.67) scale(1 1.03)" textLength="60.5" lengthAdjust="spacingAndGlyphs">skill_throw</text>
<rect class="n" x="259.25" y="240.67" width="65.25" height="25.33"/><text transform="translate(269.77 256.67) scale(1 1.03)" textLength="43" lengthAdjust="spacingAndGlyphs">do_skill</text>
<rect class="n" x="416.5" y="240.67" width="39" height="25.33"/><text transform="translate(426.65 256.67) scale(1 1.03)" textLength="17.5" lengthAdjust="spacingAndGlyphs">fire</text>
<rect class="n" x="377.25" y="5.87" width="117.5" height="25.33"/><text transform="translate(387.65 21.87) scale(1 1.03)" textLength="95.5" lengthAdjust="spacingAndGlyphs">command_throw</text>
<rect class="n" x="373.75" y="316.67" width="124.5" height="25.33"/><text transform="translate(384.4 332.67) scale(1 1.03)" textLength="102" lengthAdjust="spacingAndGlyphs">monster_use_skill</text>
<rect class="n" x="400.5" y="404.67" width="71" height="25.33"/><text transform="translate(410.9 420.67) scale(1 1.03)" textLength="49" lengthAdjust="spacingAndGlyphs">use_skill</text>
<rect class="n" x="554.5" y="208.67" width="109.75" height="25.33"/><text transform="translate(565.02 224.67) scale(1 1.03)" textLength="87.5" lengthAdjust="spacingAndGlyphs">command_stay</text>
<rect class="n" x="561.5" y="259.33" width="95" height="25.33"/><text transform="translate(572.15 275.33) scale(1 1.03)" textLength="72.5" lengthAdjust="spacingAndGlyphs">move_player</text>
<rect class="n" x="555.75" y="328.67" width="107" height="25.33"/><text transform="translate(566.65 344.67) scale(1 1.03)" textLength="84" lengthAdjust="spacingAndGlyphs">move_monster</text>
<rect class="n" x="547" y="379.33" width="124.5" height="25.33"/><text transform="translate(557.65 395.33) scale(1 1.03)" textLength="102" lengthAdjust="spacingAndGlyphs">command_search</text>
<rect class="n" x="551.75" y="430" width="115" height="25.33"/><text transform="translate(562.15 446) scale(1 1.03)" textLength="93" lengthAdjust="spacingAndGlyphs">command_uskill</text>
<rect class="n" x="547" y="480.67" width="124.5" height="25.33"/><text transform="translate(557.65 496.67) scale(1 1.03)" textLength="102" lengthAdjust="spacingAndGlyphs">command_disarm</text>
<rect class="n" x="726.5" y="107.33" width="131" height="25.33"/><text transform="translate(737.65 123.33) scale(1 1.03)" textLength="107.5" lengthAdjust="spacingAndGlyphs">cfapi_object_move</text>
<rect class="n" x="740.5" y="158" width="103" height="25.33"/><text transform="translate(750.65 174) scale(1 1.03)" textLength="81.5" lengthAdjust="spacingAndGlyphs">command_fire</text>
<rect class="n" x="743.75" y="208.67" width="96.5" height="25.33"/><text transform="translate(754.15 224.67) scale(1 1.03)" textLength="74.5" lengthAdjust="spacingAndGlyphs">pray_at_altar</text>
<rect class="n" x="739.75" y="259.33" width="104.5" height="25.33"/><text transform="translate(750.4 275.33) scale(1 1.03)" textLength="82" lengthAdjust="spacingAndGlyphs">command_run</text>
<rect class="n" x="719.75" y="310" width="144.5" height="25.33"/><text transform="translate(729.9 326) scale(1 1.03)" textLength="123" lengthAdjust="spacingAndGlyphs">handle_newcs_player</text>
<rect class="n" x="740.5" y="360.67" width="102.75" height="25.33"/><text transform="translate(751.27 376.67) scale(1 1.03)" textLength="80" lengthAdjust="spacingAndGlyphs">move_internal</text>
<rect class="n" x="738" y="614" width="108.25" height="25.33"/><text transform="translate(748.52 630) scale(1 1.03)" textLength="86" lengthAdjust="spacingAndGlyphs">process_object</text>
<rect class="n" x="960.5" y="56.67" width="47" height="25.33"/><text transform="translate(971.15 72.67) scale(1 1.03)" textLength="24.5" lengthAdjust="spacingAndGlyphs">pray</text>
<rect class="n" x="923.75" y="107.33" width="120.75" height="25.33"/><text transform="translate(934.77 123.33) scale(1 1.03)" textLength="97.5" lengthAdjust="spacingAndGlyphs">process_players1</text>
<rect class="n" x="928.5" y="158" width="111" height="25.33"/><text transform="translate(939.4 174) scale(1 1.03)" textLength="88" lengthAdjust="spacingAndGlyphs">command_east</text>
<rect class="n" x="926.5" y="208.67" width="115" height="25.33"/><text transform="translate(936.9 224.67) scale(1 1.03)" textLength="93" lengthAdjust="spacingAndGlyphs">command_north</text>
<rect class="n" x="914.5" y="259.33" width="139" height="25.33"/><text transform="translate(924.9 275.33) scale(1 1.03)" textLength="117" lengthAdjust="spacingAndGlyphs">command_northeast</text>
<rect class="n" x="913.25" y="310" width="141.5" height="25.33"/><text transform="translate(923.65 326) scale(1 1.03)" textLength="119.5" lengthAdjust="spacingAndGlyphs">command_northwest</text>
<rect class="n" x="925" y="360.67" width="117.75" height="25.33"/><text transform="translate(935.77 376.67) scale(1 1.03)" textLength="95" lengthAdjust="spacingAndGlyphs">command_south</text>
<rect class="n" x="913.25" y="411.33" width="141.5" height="25.33"/><text transform="translate(923.9 427.33) scale(1 1.03)" textLength="119" lengthAdjust="spacingAndGlyphs">command_southeast</text>
<rect class="n" x="912.5" y="462" width="143" height="25.33"/><text transform="translate(922.65 478) scale(1 1.03)" textLength="121.5" lengthAdjust="spacingAndGlyphs">command_southwest</text>
<rect class="n" x="927.75" y="512.67" width="112.5" height="25.33"/><text transform="translate(938.15 528.67) scale(1 1.03)" textLength="90.5" lengthAdjust="spacingAndGlyphs">command_west</text>
<rect class="n" x="922.5" y="664.67" width="123" height="25.33"/><text transform="translate(932.9 680.67) scale(1 1.03)" textLength="101" lengthAdjust="spacingAndGlyphs">attack_ob_simple</text>
<rect class="n" x="1116.5" y="512.67" width="110.75" height="25.33"/><text transform="translate(1127.28 528.67) scale(1 1.03)" textLength="88" lengthAdjust="spacingAndGlyphs">process_events</text>
<rect class="n" x="1103.25" y="563.33" width="137" height="25.33"/><text transform="translate(1113.9 579.33) scale(1 1.03)" textLength="114.5" lengthAdjust="spacingAndGlyphs">move_player_mover</text>
<rect class="n" x="1132.5" y="664.67" width="79" height="25.33"/><text transform="translate(1142.9 680.67) scale(1 1.03)" textLength="57" lengthAdjust="spacingAndGlyphs">attack_ob</text>
<rect class="n" x="1119.75" y="766" width="104.5" height="25.33"/><text transform="translate(1129.9 782) scale(1 1.03)" textLength="83" lengthAdjust="spacingAndGlyphs">hit_with_arrow</text>
<rect class="n" x="1327.25" y="512.67" width="105.5" height="25.33"/><text transform="translate(1338.4 528.67) scale(1 1.03)" textLength="82" lengthAdjust="spacingAndGlyphs">START_TEST</text>
<rect class="n" x="1332.5" y="614" width="95" height="25.33"/><text transform="translate(1342.9 630) scale(1 1.03)" textLength="73" lengthAdjust="spacingAndGlyphs">move_golem</text>
<rect class="n" x="1325.5" y="664.67" width="108.75" height="25.33"/><text transform="translate(1336.28 680.67) scale(1 1.03)" textLength="86" lengthAdjust="spacingAndGlyphs">do_skill_attack</text>
<rect class="n" x="1288.5" y="816.67" width="183" height="25.33"/><text transform="translate(1299.4 832.67) scale(1 1.03)" textLength="160" lengthAdjust="spacingAndGlyphs">common_process_projectile</text>
<rect class="n" x="1550.5" y="563.33" width="131" height="25.33"/><text transform="translate(1560.65 579.33) scale(1 1.03)" textLength="109.5" lengthAdjust="spacingAndGlyphs">legacy_ob_process</text>
<rect class="r" x="1572.25" y="690" width="87.25" height="25.33"/><text transform="translate(1582.78 706) scale(1 1.03)" textLength="65" lengthAdjust="spacingAndGlyphs">skill_attack</text>
<rect class="r" x="1520.5" y="766" width="190.75" height="25.33"/><text transform="translate(1531.28 782) scale(1 1.03)" textLength="168" lengthAdjust="spacingAndGlyphs">common_projectile_move_on</text>
<rect class="n" x="1548.5" y="816.67" width="134.75" height="25.33"/><text transform="translate(1558.28 832.67) scale(1 1.03)" textLength="114" lengthAdjust="spacingAndGlyphs">arrow_type_process</text>
<rect class="r" x="1549.25" y="867.87" width="133.5" height="40"/><text transform="translate(1559.4 883.87) scale(1 1.03)" textLength="112" lengthAdjust="spacingAndGlyphs">thrown_object_type</text><text transform="translate(1589.9 898.53) scale(1 1.03)" textLength="51" lengthAdjust="spacingAndGlyphs">_process</text>
<rect class="n" x="1760.5" y="556.67" width="116.25" height="25.33"/><text transform="translate(1771.03 572.67) scale(1 1.03)" textLength="94" lengthAdjust="spacingAndGlyphs">init_ob_methods</text>
<rect class="r" x="1764.5" y="791.33" width="108.25" height="25.33"/><text transform="translate(1774.53 807.33) scale(1 1.03)" textLength="87" lengthAdjust="spacingAndGlyphs">init_type_arrow</text>
<rect class="n" x="1925.75" y="544.67" width="39" height="25.33"/><text transform="translate(1936.15 560.67) scale(1 1.03)" textLength="17" lengthAdjust="spacingAndGlyphs">init</text>
<rect class="n" x="2013" y="468.67" width="91.25" height="25.33"/><text transform="translate(2023.53 484.67) scale(1 1.03)" textLength="69" lengthAdjust="spacingAndGlyphs">server_main</text>
<rect class="n" x="2033.25" y="544.67" width="51" height="25.33"/><text transform="translate(2044.15 560.67) scale(1 1.03)" textLength="28" lengthAdjust="spacingAndGlyphs">main</text>
<rect class="n" x="2151.75" y="468.67" width="51" height="25.33"/><text transform="translate(2162.65 484.67) scale(1 1.03)" textLength="28" lengthAdjust="spacingAndGlyphs">main</text>
</g>
</svg>
</body></html>
